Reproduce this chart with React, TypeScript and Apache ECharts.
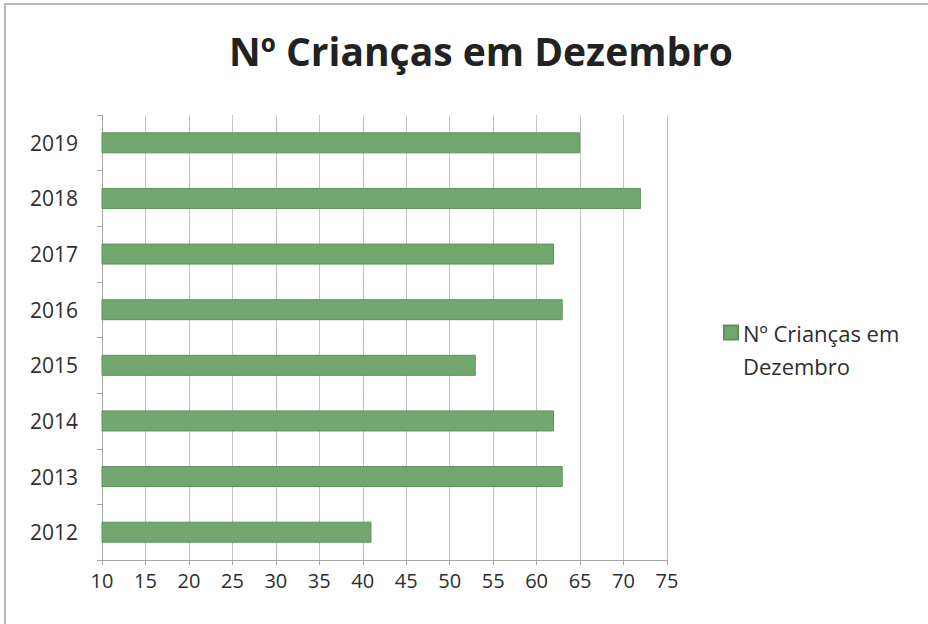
import React, { useEffect, useRef } from "react";
import * as echarts from "echarts";

const years = ["2012", "2013", "2014", "2015", "2016", "2017", "2018", "2019"];
const children = [41, 63, 62, 53, 63, 62, 72, 65];
const seriesName = "Nº Crianças em Dezembro";
const titleText = "Nº Crianças em Dezembro";

export default function App() {
  const ref = useRef<HTMLDivElement>(null);
  useEffect(() => {
    if (!ref.current) return;
    const chart = echarts.init(ref.current, null, { renderer: "svg" });
    chart.setOption({
      animation: false,
      backgroundColor: "#ffffff",
      title: {
        text: titleText,
        left: 476,
        textAlign: "center",
        top: 26,
        textStyle: {
          fontFamily: "Open Sans",
          fontWeight: "bold",
          fontSize: 39,
          color: "#222222",
        },
      },
      graphic: [
        { type: "line", shape: { x1: 5, y1: 4, x2: 5, y2: 624 }, style: { stroke: "#b8b8b8", lineWidth: 2 } },
        { type: "line", shape: { x1: 4, y1: 4, x2: 928, y2: 4 }, style: { stroke: "#b8b8b8", lineWidth: 2 } },
      ],
      legend: {
        left: 718,
        top: 311,
        orient: "vertical",
        itemWidth: 14,
        itemHeight: 47,
        itemGap: 0,
        icon: "path://M0,0L14,0L14,14L0,14Z M0,47L0.001,47",
        formatter: () => "Nº Crianças em\nDezembro",
        textStyle: {
          fontFamily: "Open Sans",
          fontSize: 22,
          lineHeight: 33,
          color: "#2e2e2e",
        },
        data: [seriesName],
      },
      grid: { left: 102, right: 261, top: 115, bottom: 64, containLabel: false },
      xAxis: {
        type: "value",
        min: 10,
        max: 75,
        interval: 5,
        axisLine: { show: true, lineStyle: { color: "#a6a6a6" } },
        axisTick: { show: true, length: 5, lineStyle: { color: "#a6a6a6" } },
        splitLine: { show: true, lineStyle: { color: "#c4c4c4" } },
        axisLabel: {
          fontFamily: "Open Sans",
          fontSize: 20,
          color: "#2e2e2e",
          margin: 10,
        },
      },
      yAxis: {
        type: "category",
        data: years,
        axisLine: { show: true, lineStyle: { color: "#a6a6a6" } },
        axisTick: { show: true, length: 5, alignWithLabel: false, lineStyle: { color: "#a6a6a6" } },
        splitLine: { show: false },
        axisLabel: {
          fontFamily: "Open Sans",
          fontSize: 21,
          color: "#2e2e2e",
          margin: 24,
        },
      },
      series: [
        {
          name: seriesName,
          type: "bar",
          data: children,
          barWidth: 21,
          itemStyle: { color: "#72a870", borderColor: "#5e915d", borderWidth: 1 },
        },
      ],
    });
    return () => chart.dispose();
  }, []);
  return (
    <div
      ref={ref}
      style={{ position: "fixed", left: 0, top: 0, width: 928, height: 624 }}
    />
  );
}
